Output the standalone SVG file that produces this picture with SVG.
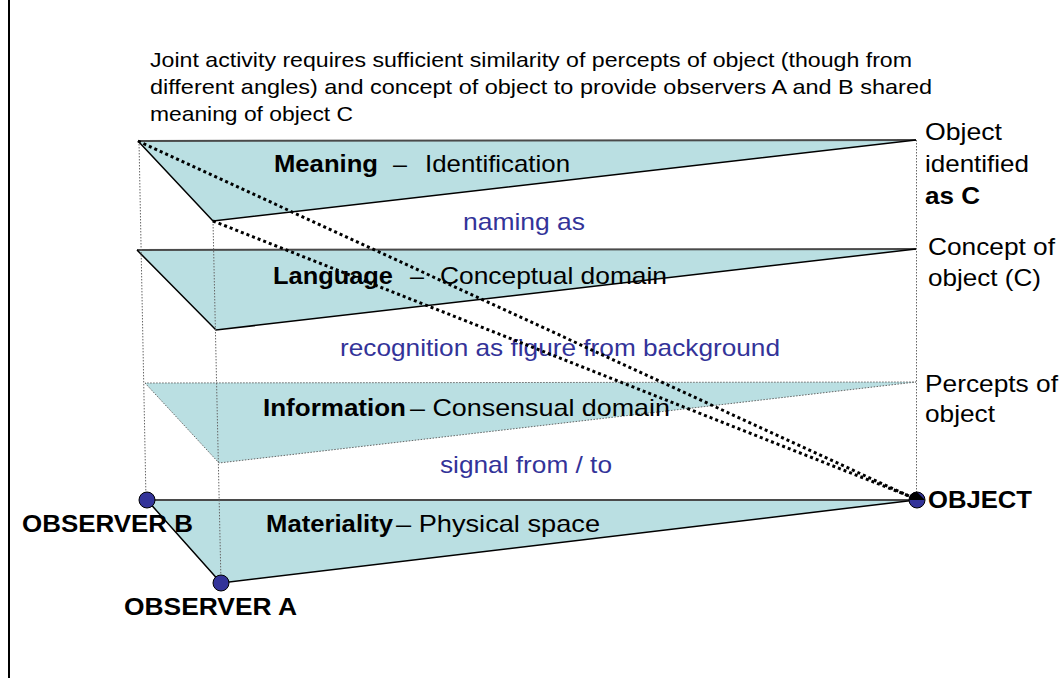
<svg xmlns="http://www.w3.org/2000/svg" width="1059" height="678" viewBox="0 0 1059 678">
<style>
text{font-family:"Liberation Sans",Arial,sans-serif;fill:#000}
.t{font-size:21px}
.l{font-size:24px}
.b{font-weight:bold}
.blue{fill:#333399;font-size:24px}
.tri{fill:#BADFE2;stroke:none}
.edge{stroke:#000;stroke-width:1.5;fill:none}
.top{stroke:#4a4a4a;stroke-width:2;fill:none}
.dot{stroke:#666;stroke-width:1;stroke-dasharray:1.5,1.5;fill:none}
.heavy{stroke:#000;stroke-width:3;stroke-dasharray:3,3;fill:none}
.obs{fill:#333399;stroke:#000;stroke-width:1}
</style>
<rect width="1059" height="678" fill="#fff"/>
<line x1="9" y1="0" x2="9" y2="678" stroke="#000" stroke-width="2"/>

<g id="caption">
<text class="t" x="150" y="67" textLength="762" lengthAdjust="spacingAndGlyphs">Joint activity requires sufficient similarity of percepts of object (though from</text>
<text class="t" x="150" y="94" textLength="782" lengthAdjust="spacingAndGlyphs">different angles) and concept of object to provide observers A and B shared</text>
<text class="t" x="150" y="121" textLength="203" lengthAdjust="spacingAndGlyphs">meaning of object C</text>
</g>

<g id="meaning">
<polygon class="tri" points="138,141 213,221 916,140"/>
<line class="top" x1="138" y1="141" x2="916" y2="140"/>
<polyline class="edge" points="138,141 213,221 916,140"/>
<text class="l b" x="274" y="172" textLength="104" lengthAdjust="spacingAndGlyphs">Meaning</text>
<text class="l" x="393" y="172" textLength="14" lengthAdjust="spacingAndGlyphs">–</text>
<text class="l" x="425" y="172" textLength="145" lengthAdjust="spacingAndGlyphs">Identification</text>
</g>

<g id="language">
<polygon class="tri" points="137,250 216,330 916,249"/>
<line class="top" x1="137" y1="250" x2="916" y2="249"/>
<polyline class="edge" points="137,250 216,330 916,249"/>
<text class="l b" x="273" y="284" textLength="120" lengthAdjust="spacingAndGlyphs">Language</text>
<text class="l" x="410" y="284" textLength="14" lengthAdjust="spacingAndGlyphs">–</text>
<text class="l" x="440" y="284" textLength="227" lengthAdjust="spacingAndGlyphs">Conceptual domain</text>
</g>

<g id="information">
<polygon class="tri" points="145,383 219,463 916,382"/>
<polygon class="dot" points="145,383 219,463 916,382"/>
<text class="l b" x="263" y="416" textLength="143" lengthAdjust="spacingAndGlyphs">Information</text>
<text class="l" x="410" y="416" textLength="260" lengthAdjust="spacingAndGlyphs">– Consensual domain</text>
</g>

<g id="materiality">
<polygon class="tri" points="147,500 221,583 916,500"/>
<line class="top" x1="147" y1="500" x2="916" y2="500"/>
<polyline class="edge" points="147,500 221,583 916,500"/>
<text class="l b" x="266" y="532" textLength="127" lengthAdjust="spacingAndGlyphs">Materiality</text>
<text class="l" x="396" y="532" textLength="204" lengthAdjust="spacingAndGlyphs">– Physical space</text>
</g>

<g id="relations">
<text class="blue" x="463" y="230" textLength="122" lengthAdjust="spacingAndGlyphs">naming as</text>
<text class="blue" x="340" y="356" textLength="440" lengthAdjust="spacingAndGlyphs">recognition as figure from background</text>
<text class="blue" x="440" y="473" textLength="172" lengthAdjust="spacingAndGlyphs">signal from / to</text>
</g>

<g id="connectors">
<line class="dot" x1="139" y1="141" x2="146" y2="500"/>
<line class="dot" x1="213" y1="221" x2="221" y2="583"/>
<line class="dot" x1="916.5" y1="140" x2="916.5" y2="500"/>
<line class="heavy" x1="138" y1="141" x2="909" y2="496"/>
<line class="heavy" x1="213" y1="221" x2="909" y2="496"/>
</g>

<g id="observer-b">
<circle class="obs" cx="147" cy="500" r="8"/>
<text class="l b" x="22" y="532" textLength="171" lengthAdjust="spacingAndGlyphs">OBSERVER B</text>
</g>

<g id="observer-a">
<circle class="obs" cx="221" cy="583" r="8"/>
<text class="l b" x="124" y="615" textLength="173" lengthAdjust="spacingAndGlyphs">OBSERVER A</text>
</g>

<g id="object">
<circle class="obs" cx="917" cy="500" r="8"/>
<path d="M909,500 A8,8 0 0 1 917,492 L925,500 Z" fill="#000"/>
<text class="l b" x="928" y="508" textLength="104" lengthAdjust="spacingAndGlyphs">OBJECT</text>
</g>

<g id="labels-right">
<text class="l" x="925" y="140" textLength="77" lengthAdjust="spacingAndGlyphs">Object</text>
<text class="l" x="925" y="172" textLength="104" lengthAdjust="spacingAndGlyphs">identified</text>
<text class="l b" x="925" y="204" textLength="55" lengthAdjust="spacingAndGlyphs">as C</text>
<text class="l" x="928" y="255" textLength="127" lengthAdjust="spacingAndGlyphs">Concept of</text>
<text class="l" x="928" y="286" textLength="113" lengthAdjust="spacingAndGlyphs">object (C)</text>
<text class="l" x="925" y="392" textLength="133" lengthAdjust="spacingAndGlyphs">Percepts of</text>
<text class="l" x="925" y="422" textLength="70" lengthAdjust="spacingAndGlyphs">object</text>
</g>
</svg>
